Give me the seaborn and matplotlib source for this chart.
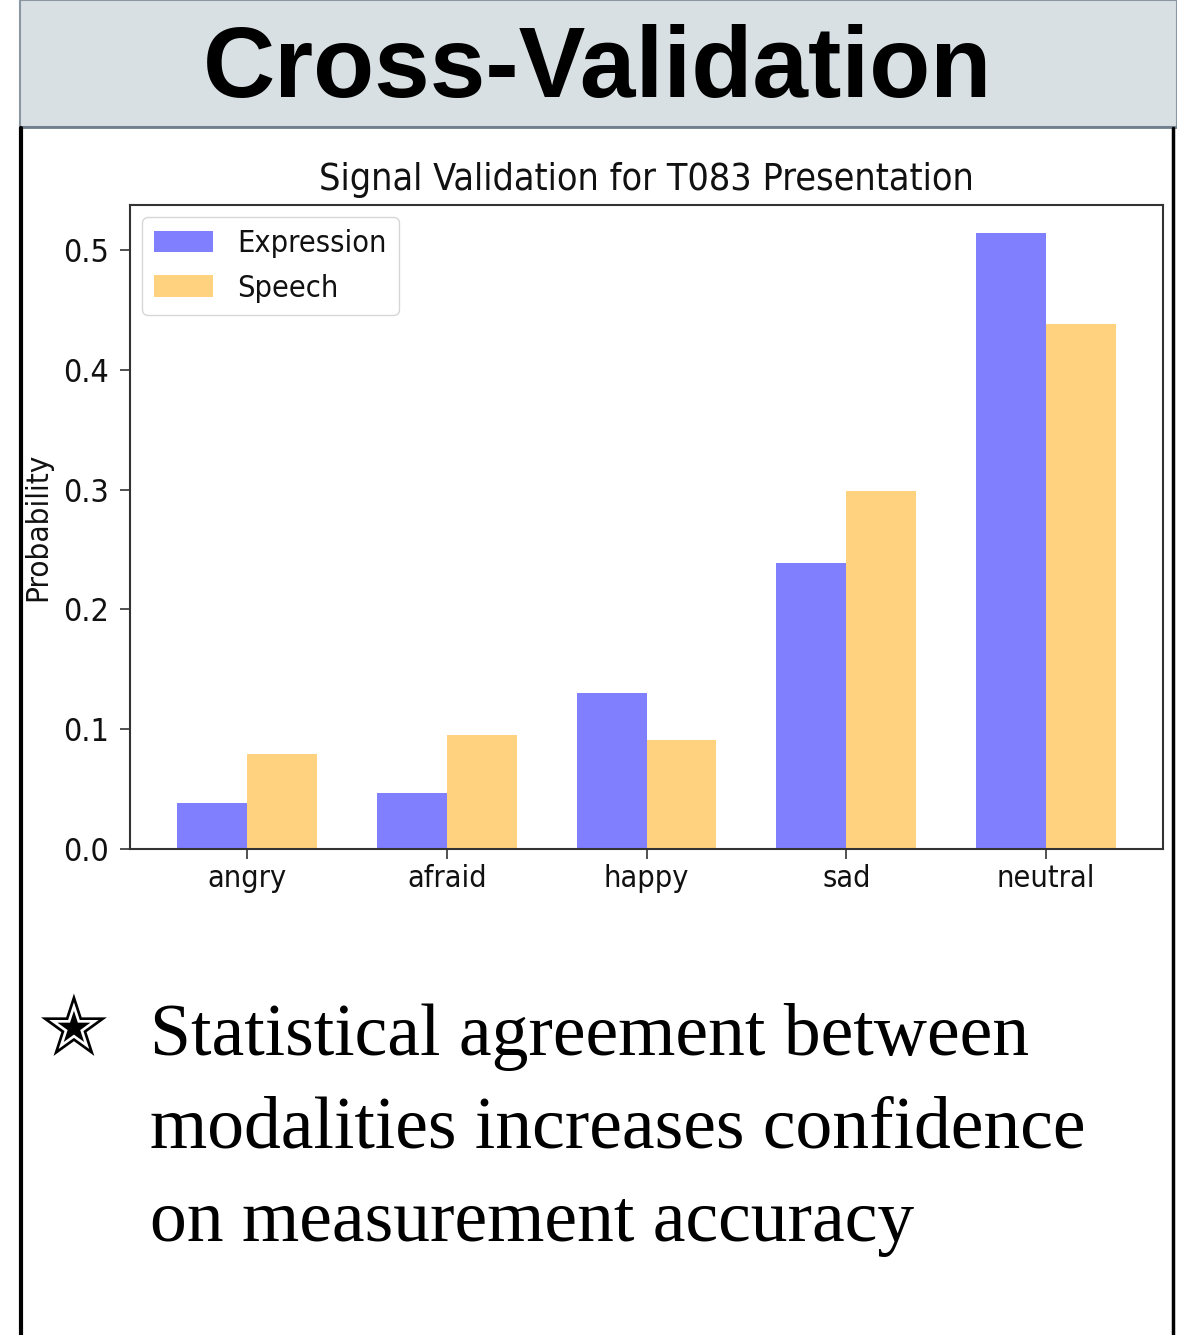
import numpy as np
import pandas as pd
import seaborn as sns
import matplotlib.pyplot as plt
from matplotlib.patches import Rectangle
from matplotlib.lines import Line2D

emotions = ['angry', 'afraid', 'happy', 'sad', 'neutral']
expression = [0.038, 0.047, 0.130, 0.239, 0.514]
speech = [0.079, 0.095, 0.091, 0.299, 0.438]
sources = ['Expression', 'Speech']
bullet_lines = ['Statistical agreement between',
                'modalities increases confidence',
                'on measurement accuracy']

df = pd.DataFrame({
    'emotion': emotions * 2,
    'prob': expression + speech,
    'source': [sources[0]] * len(emotions) + [sources[1]] * len(emotions),
})

sns.set_style('white')
plt.rcParams['font.family'] = ['DejaVu Sans']
plt.rcParams['text.color'] = '#111111'
plt.rcParams['axes.labelcolor'] = '#111111'
plt.rcParams['xtick.color'] = '#111111'
plt.rcParams['ytick.color'] = '#111111'

W, H = 1177, 1335
fig = plt.figure(figsize=(W / 100, H / 100), dpi=100)

# slide header + frame
fig.patches.append(Rectangle((20 / W, 1 - 127 / H), 1 - 20 / W, 127 / H,
                             transform=fig.transFigure, facecolor='#d9e0e4',
                             edgecolor='#8a97a3', lw=1.5, zorder=0))
fig.lines.append(Line2D([20 / W, 1], [1 - 127 / H, 1 - 127 / H], transform=fig.transFigure,
                        color='#6f7f8e', lw=2))
fig.lines.append(Line2D([21 / W, 21 / W], [0, 1 - 128 / H], transform=fig.transFigure,
                        color='black', lw=3))
fig.lines.append(Line2D([1173 / W, 1173 / W], [0, 1 - 128 / H], transform=fig.transFigure,
                        color='black', lw=2.5))
fig.text(598 / W, 1 - 97 / H, 'Cross-Validation', ha='center', va='baseline',
         fontsize=72, fontweight='bold', family='Liberation Sans', color='black')

ax = fig.add_axes([130 / W, 1 - 849 / H, 1033 / W, 644 / H])
sns.barplot(data=df, x='emotion', y='prob', hue='source',
            palette=['#8080ff', '#ffd280'], saturation=1, width=0.7,
            linewidth=0, ax=ax)

ax.set_xlim(-0.585, 4.585)
ax.set_ylim(0, 0.5376)
ax.set_yticks([0.0, 0.1, 0.2, 0.3, 0.4, 0.5])
ax.set_xlabel('')
ax.set_ylabel('Probability', fontsize=22.5, fontstretch='condensed')
ax.yaxis.set_label_coords(-0.075, 0.5)
ax.set_title('Signal Validation for T083 Presentation', fontsize=27,
             fontstretch='condensed', pad=11)
ax.tick_params(axis='both', length=7, width=1.2, color='#333333',
               direction='out', left=True, bottom=True)
ax.tick_params(axis='x', labelsize=22, pad=4)
ax.tick_params(axis='y', labelsize=23, pad=8)
for lab in ax.get_xticklabels() + ax.get_yticklabels():
    lab.set_fontstretch('condensed')
for sp in ax.spines.values():
    sp.set_color('#333333')
    sp.set_linewidth(1.5)

leg = ax.legend(loc='upper left', fontsize=22, title=None, frameon=True,
                fancybox=True, edgecolor='#cccccc', handlelength=1.9,
                borderaxespad=0.4)
for t in leg.get_texts():
    t.set_fontstretch('condensed')

# bullet text
fig.text(73 / W, 1 - 1032 / H, '\u272d', ha='center', va='center', fontsize=60,
         family='DejaVu Sans', color='black')
for i, line in enumerate(bullet_lines):
    fig.text(150 / W, 1 - (1055 + 93 * i) / H, line, ha='left', va='baseline',
             fontsize=53, family='Liberation Serif', color='black')

fig.savefig('out.png', dpi=100)
